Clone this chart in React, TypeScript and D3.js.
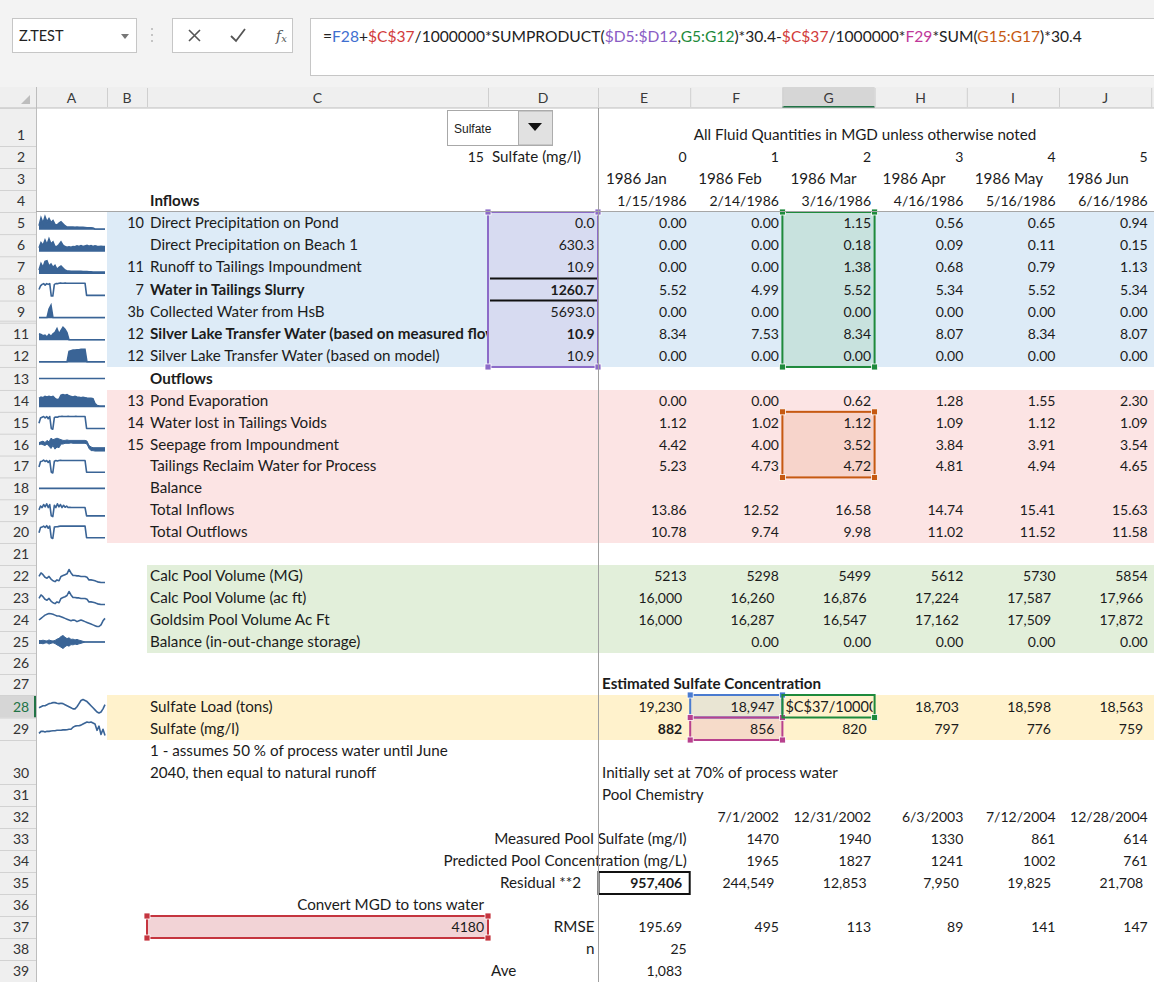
import React from "react";
import * as d3 from "d3";

// ---------------- data ----------------
const columnLetters = ["A", "B", "C", "D", "E", "F", "G", "H", "I", "J"];
const periodNumbers = [0, 1, 2, 3, 4, 5];
const monthLabels = ["1986 Jan", "1986 Feb", "1986 Mar", "1986 Apr", "1986 May", "1986 Jun"];
const dateLabels = ["1/15/1986", "2/14/1986", "3/16/1986", "4/16/1986", "5/16/1986", "6/16/1986"];
const fluidNote = "All Fluid Quantities in MGD unless otherwise  noted";
const constituentChoice = "Sulfate";
const constituentNumber = "15";
const constituentLabel = "Sulfate (mg/l)";
const nameBoxText = "Z.TEST";

const inflowRows = [5, 6, 7, 8, 9, 11, 12];
const inflowRefs = ["10", "", "11", "7", "3b", "12", "12"];
const inflowLabels = [
  "Direct Precipitation on Pond",
  "Direct Precipitation on Beach 1",
  "Runoff to Tailings Impoundment",
  "Water in Tailings Slurry",
  "Collected Water from HsB",
  "Silver Lake Transfer Water (based on measured flow)",
  "Silver Lake Transfer Water (based on model)",
];
const inflowBold = [false, false, false, true, false, true, false];
const inflowSulfate = [0.0, 630.3, 10.9, 1260.7, 5693.0, 10.9, 10.9];
const inflowValues = [
  [0.0, 0.0, 1.15, 0.56, 0.65, 0.94],
  [0.0, 0.0, 0.18, 0.09, 0.11, 0.15],
  [0.0, 0.0, 1.38, 0.68, 0.79, 1.13],
  [5.52, 4.99, 5.52, 5.34, 5.52, 5.34],
  [0.0, 0.0, 0.0, 0.0, 0.0, 0.0],
  [8.34, 7.53, 8.34, 8.07, 8.34, 8.07],
  [0.0, 0.0, 0.0, 0.0, 0.0, 0.0],
];

const outflowRows = [14, 15, 16, 17, 18, 19, 20];
const outflowRefs = ["13", "14", "15", "", "", "", ""];
const outflowLabels = [
  "Pond Evaporation",
  "Water lost in Tailings Voids",
  "Seepage from Impoundment",
  "Tailings Reclaim Water for Process",
  "Balance",
  "Total Inflows",
  "Total Outflows",
];
const outflowValues = [
  [0.0, 0.0, 0.62, 1.28, 1.55, 2.3],
  [1.12, 1.02, 1.12, 1.09, 1.12, 1.09],
  [4.42, 4.0, 3.52, 3.84, 3.91, 3.54],
  [5.23, 4.73, 4.72, 4.81, 4.94, 4.65],
  [],
  [13.86, 12.52, 16.58, 14.74, 15.41, 15.63],
  [10.78, 9.74, 9.98, 11.02, 11.52, 11.58],
];

const poolLabels = [
  "Calc Pool Volume (MG)",
  "Calc Pool Volume (ac ft)",
  "Goldsim Pool Volume Ac Ft",
  "Balance (in-out-change storage)",
];
const poolVolumeMG = [5213, 5298, 5499, 5612, 5730, 5854];
const poolVolumeAcFt = [16000, 16260, 16876, 17224, 17587, 17966];
const goldsimVolumeAcFt = [16000, 16287, 16547, 17162, 17509, 17872];
const poolBalance = [null, 0.0, 0.0, 0.0, 0.0, 0.0];

const estimateTitle = "Estimated Sulfate Concentration";
const sulfateLoadLabel = "Sulfate Load (tons)";
const sulfateConcLabel = "Sulfate (mg/l)";
const sulfateLoad = [19230, 18947, null, 18703, 18598, 18563];
const editingFormula = "$C$37/10000";
const sulfateConc = [882, 856, 820, 797, 776, 759];

const noteLines = ["1 - assumes 50 % of process water until June", "2040, then equal to natural runoff"];
const initialNote = "Initially set at 70% of process water";
const chemistryTitle = "Pool Chemistry";
const chemistryDates = ["7/1/2002", "12/31/2002", "6/3/2003", "7/12/2004", "12/28/2004"];
const measuredSulfate = [1470, 1940, 1330, 861, 614];
const predictedSulfate = [1965, 1827, 1241, 1002, 761];
const residualTotal = 957406;
const residuals = [244549, 12853, 7950, 19825, 21708];
const rmseTotal = 195.69;
const rmseValues = [495, 113, 89, 141, 147];
const sampleCount = 25;
const averageConc = 1083;
const tonsFactor = 4180;

const sparkPrecipPond = [0.3, 0.9, 0.5, 1.0, 0.6, 0.85, 0.55, 0.7, 0.4, 0.35, 0.5, 0.6, 0.45, 0.3, 0.2, 0.2, 0.2, 0.2, 0.18, 0.2, 0.18, 0.18, 0.18, 0.17, 0.15, 0.15, 0.15, 0.12, 0.05, 0.05, 0.05, 0.05, 0.05, 0.05];
const sparkPrecipBeach = [0.3, 0.7, 0.5, 0.9, 0.55, 1.0, 0.6, 0.75, 0.4, 0.4, 0.55, 0.75, 0.5, 0.4, 0.35, 0.38, 0.35, 0.4, 0.38, 0.45, 0.4, 0.48, 0.4, 0.45, 0.5, 0.42, 0.48, 0.4, 0.45, 0.42, 0.4, 0.42, 0.4, 0.4];
const sparkRunoff = [0.3, 0.8, 0.5, 0.95, 1.0, 0.6, 0.75, 0.5, 0.65, 0.35, 0.5, 0.6, 0.45, 0.3, 0.22, 0.22, 0.2, 0.2, 0.2, 0.2, 0.2, 0.2, 0.18, 0.18, 0.18, 0.17, 0.16, 0.15, 0.15, 0.15, 0.15, 0.15, 0.15, 0.15];
const sparkSlurry = [0.45, 0.7, 0.8, 0.85, 0.75, 0.85, 0.8, 0.85, 0.0, 0.0, 0.8, 0.85, 0.85, 0.88, 0.9, 0.88, 0.88, 0.9, 0.88, 0.88, 0.88, 0.88, 0.88, 0.88, 0.88, 0.88, 0.88, 0.88, 0.88, 0.88, 0.88, 0.05, 0.05, 0.05, 0.05, 0.05, 0.05, 0.05, 0.05, 0.05, 0.05, 0.05, 0.05, 0.05];
const sparkHsB = [0.05, 0.05, 0.05, 0.05, 0.05, 0.7, 1.0, 0.05, 0.05, 0.05, 0.05, 0.05, 0.05, 0.05, 0.05, 0.05, 0.05, 0.05, 0.05, 0.05, 0.05, 0.05, 0.05, 0.05, 0.05, 0.05, 0.05, 0.05, 0.05, 0.05, 0.05, 0.05, 0.05, 0.05];
const sparkSilverMeasured = [0.5, 0.45, 0.35, 0.4, 0.25, 0.45, 0.3, 0.5, 0.6, 0.9, 0.5, 0.75, 1.0, 0.85, 0.6, 0.05, 0.05, 0.05, 0.05, 0.05, 0.05, 0.05, 0.05, 0.05, 0.05, 0.05, 0.05, 0.05, 0.05, 0.05, 0.05, 0.05, 0.05, 0.05];
const sparkSilverModel = [0.05, 0.05, 0.05, 0.05, 0.05, 0.05, 0.05, 0.05, 0.05, 0.05, 0.05, 0.05, 0.05, 0.05, 0.05, 0.8, 0.85, 0.9, 0.9, 0.92, 0.92, 0.95, 0.95, 0.95, 0.05, 0.05, 0.05, 0.05, 0.05, 0.05, 0.05, 0.05, 0.05, 0.05];
const sparkFlat = [0, 0, 0, 0, 0, 0, 0, 0, 0, 0];
const sparkEvaporation = [0.7, 0.8, 0.75, 0.85, 0.8, 0.85, 0.8, 0.85, 0.7, 0.6, 0.65, 0.95, 1.0, 0.95, 1.0, 0.9, 0.85, 0.8, 0.85, 0.8, 0.78, 0.75, 0.78, 0.75, 0.72, 0.7, 0.7, 0.68, 0.3, 0.15, 0.12, 0.1, 0.1, 0.1];
const sparkVoids = [0.4, 0.75, 0.8, 0.85, 0.75, 0.85, 0.7, 0.85, 0.05, 0.0, 0.78, 0.82, 0.8, 0.85, 0.85, 0.86, 0.85, 0.85, 0.85, 0.86, 0.85, 0.85, 0.85, 0.85, 0.86, 0.85, 0.85, 0.85, 0.85, 0.85, 0.85, 0.05, 0.05, 0.05, 0.05, 0.05, 0.05, 0.05, 0.05, 0.05, 0.05, 0.05, 0.05, 0.05];
const seepageHigh = [0.7, 0.75, 0.8, 0.7, 0.85, 0.75, 1.0, 0.9, 0.95, 1.0, 0.95, 0.9, 0.85, 0.85, 0.88, 0.85, 0.85, 0.85, 0.85, 0.85, 0.85, 0.85, 0.85, 0.85, 0.8, 0.5, 0.4, 0.35, 0.35, 0.35, 0.35, 0.35, 0.35, 0.35];
const seepageLow = [0.55, 0.6, 0.55, 0.5, 0.6, 0.45, 0.3, 0.5, 0.25, 0.4, 0.35, 0.6, 0.6, 0.65, 0.65, 0.65, 0.68, 0.65, 0.65, 0.65, 0.65, 0.65, 0.65, 0.65, 0.6, 0.3, 0.15, 0.15, 0.12, 0.12, 0.12, 0.12, 0.12, 0.12];
const sparkReclaim = [0.4, 0.78, 0.8, 0.88, 0.78, 0.85, 0.72, 0.85, 0.05, 0.0, 0.8, 0.85, 0.82, 0.85, 0.86, 0.85, 0.85, 0.85, 0.85, 0.85, 0.85, 0.85, 0.85, 0.85, 0.85, 0.85, 0.85, 0.85, 0.85, 0.85, 0.85, 0.05, 0.05, 0.05, 0.05, 0.05, 0.05, 0.05, 0.05, 0.05, 0.05, 0.05, 0.05, 0.05];
const sparkTotalIn = [0.45, 0.7, 0.6, 0.8, 0.65, 0.85, 0.6, 0.8, 0.05, 0.0, 0.75, 0.6, 0.85, 0.65, 0.8, 0.6, 0.75, 0.62, 0.7, 0.6, 0.62, 0.6, 0.6, 0.6, 0.6, 0.6, 0.6, 0.6, 0.6, 0.6, 0.6, 0.05, 0.05, 0.05, 0.05, 0.05, 0.05, 0.05, 0.05, 0.05, 0.05, 0.05, 0.05, 0.05];
const sparkTotalOut = [0.4, 0.75, 0.78, 0.85, 0.75, 0.88, 0.7, 0.85, 0.05, 0.0, 0.78, 0.8, 0.8, 0.83, 0.85, 0.85, 0.85, 0.85, 0.85, 0.85, 0.85, 0.85, 0.85, 0.85, 0.85, 0.85, 0.85, 0.85, 0.85, 0.85, 0.85, 0.05, 0.05, 0.05, 0.05, 0.05, 0.05, 0.05, 0.05, 0.05, 0.05, 0.05, 0.05, 0.05];
const sparkPoolMG = [0.55, 0.75, 0.65, 0.5, 0.45, 0.55, 0.4, 0.3, 0.25, 0.35, 0.3, 0.55, 0.6, 0.65, 0.7, 0.95, 0.75, 0.6, 0.6, 0.58, 0.58, 0.55, 0.55, 0.55, 0.5, 0.35, 0.35, 0.33, 0.3, 0.25, 0.22, 0.2, 0.2, 0.2];
const sparkPoolAcFt = [0.55, 0.75, 0.65, 0.5, 0.45, 0.55, 0.4, 0.3, 0.25, 0.35, 0.3, 0.55, 0.6, 0.65, 0.72, 0.95, 0.75, 0.6, 0.6, 0.58, 0.58, 0.55, 0.55, 0.55, 0.5, 0.35, 0.35, 0.33, 0.3, 0.25, 0.22, 0.2, 0.2, 0.2];
const sparkGoldsim = [0.5, 0.6, 0.7, 0.8, 0.85, 0.9, 0.88, 0.85, 0.8, 0.75, 0.75, 0.7, 0.65, 0.6, 0.55, 0.5, 0.45, 0.5, 0.48, 0.4, 0.45, 0.5, 0.45, 0.4, 0.35, 0.3, 0.25, 0.2, 0.15, 0.1, 0.1, 0.2, 0.45, 0.6];
const balanceHigh = [0.62, 0.6, 0.64, 0.6, 0.58, 0.66, 0.6, 0.58, 0.62, 0.72, 0.78, 0.92, 1.0, 0.86, 0.76, 0.82, 0.7, 0.72, 0.66, 0.7, 0.64, 0.6, 0.55, 0.52, 0.52, 0.52, 0.52, 0.52, 0.52, 0.52, 0.52, 0.52, 0.52, 0.52];
const balanceLow = [0.38, 0.4, 0.36, 0.42, 0.44, 0.34, 0.4, 0.44, 0.38, 0.28, 0.2, 0.1, 0.0, 0.14, 0.24, 0.18, 0.3, 0.28, 0.34, 0.3, 0.36, 0.4, 0.45, 0.48, 0.48, 0.48, 0.48, 0.48, 0.48, 0.48, 0.48, 0.48, 0.48, 0.48];
const sparkSulfateLoad = [0.4, 0.45, 0.5, 0.5, 0.55, 0.6, 0.62, 0.65, 0.65, 0.62, 0.6, 0.62, 0.6, 0.55, 0.5, 0.45, 0.4, 0.35, 0.35, 0.45, 0.6, 0.75, 0.8, 0.75, 0.7, 0.6, 0.5, 0.4, 0.3, 0.2, 0.15, 0.2, 0.35, 0.55];
const sparkSulfateConc = [0.15, 0.25, 0.25, 0.22, 0.25, 0.25, 0.27, 0.28, 0.28, 0.3, 0.3, 0.3, 0.32, 0.32, 0.33, 0.35, 0.35, 0.45, 0.5, 0.52, 0.52, 0.55, 0.6, 0.65, 0.7, 0.68, 0.7, 0.65, 0.6, 0.3, 0.5, 0.1, 0.35, 0.05];

const formulaParts: [string, string][] = [
  ["=", "#222"],
  ["F28", "#3F6FD0"],
  ["+", "#222"],
  ["$C$37", "#D23B3B"],
  ["/1000000*SUMPRODUCT(", "#222"],
  ["$D5:$D12", "#8A5CC4"],
  [",", "#222"],
  ["G5:G12", "#1E8A3C"],
  [")*30.4-", "#222"],
  ["$C$37", "#D23B3B"],
  ["/1000000*", "#222"],
  ["F29", "#C0389A"],
  ["*SUM(", "#222"],
  ["G15:G17", "#C65911"],
  [")*30.4", "#222"],
];

// ---------------- layout ----------------
const FONT = "Lato, 'Noto Sans', sans-serif";
const FS = 15.2; // labels
const FN = 14; // numbers
const TXT = "#1b1b1b";
const SPARK = "#3A6496";
const colEdges = [36, 107, 147, 488, 598, 690.2, 782.4, 874.6, 966.8, 1059, 1151.2];
const ci = (l: string) => columnLetters.indexOf(l);
const cL = (l: string) => colEdges[ci(l)];
const cR = (l: string) => colEdges[ci(l) + 1];
const valueCols = ["E", "F", "G", "H", "I", "J"];

const rowH = (r: number) => {
  if (r === 1) return 38;
  if (r === 10) return 0;
  if (r >= 5 && r <= 12) return 22.14;
  if (r === 13) return 23;
  if (r >= 14 && r <= 20) return 21.86;
  if (r === 26 || r === 27) return 21;
  if (r === 28 || r === 29) return 22.5;
  if (r === 30) return 44;
  return 22;
};
const rowT = (r: number) => {
  let y = 108;
  for (let k = 1; k < r; k++) y += rowH(k);
  return y;
};
const base = (r: number) => rowT(r) + rowH(r) - 6;

const fmt2 = d3.format(".2f");
const fmt1 = d3.format(".1f");
const fmtC = d3.format(",d");
const fmtI = d3.format("d");

type TOpts = { anchor?: "start" | "end" | "middle"; bold?: boolean; fill?: string; clip?: string; size?: number; family?: string };
function T(x: number, y: number, s: string, o: TOpts = {}, key?: any) {
  return (
    <text
      key={key}
      x={x}
      y={y}
      textAnchor={o.anchor || "start"}
      fontWeight={o.bold ? 700 : 400}
      fill={o.fill || TXT}
      fontFamily={o.family || FONT}
      fontSize={o.size || FS}
      clipPath={o.clip ? `url(#${o.clip})` : undefined}
    >
      {s}
    </text>
  );
}
// right-aligned value in a column; padded = accounting-style trailing space
const R = (col: string, r: number, s: string, padded = false, bold = false, key?: any) =>
  T(cR(col) - (padded ? 8 : 3.5), base(r), s, { anchor: "end", bold, size: FN }, key);

type SparkKind = "line" | "area" | "band";
function Spark({ row, values, kind, low }: { row: number; values: number[]; kind: SparkKind; low?: number[] }) {
  const top = rowT(row) + 4.5;
  const bot = rowT(row) + rowH(row) - 4.5;
  const x = d3.scaleLinear().domain([0, values.length - 1]).range([39, 105]);
  const all = low ? values.concat(low) : values;
  let mn = d3.min(all) as number;
  let mx = d3.max(all) as number;
  if (kind === "area") mn = Math.min(0, mn);
  if (mx === mn) {
    mn -= 1;
    mx += 1;
  }
  const y = d3.scaleLinear().domain([mn, mx]).range([bot, top]);
  const line = d3.line<number>().x((_, i) => x(i)).y((d) => y(d));
  if (kind === "band" && low) {
    const area = d3
      .area<number>()
      .x((_, i) => x(i))
      .y0((_, i) => y(low[i]))
      .y1((d) => y(d));
    return (
      <g>
        <path d={area(values) || ""} fill={SPARK} />
        <path d={line(values) || ""} fill="none" stroke={SPARK} strokeWidth={1} />
        <path d={line(low) || ""} fill="none" stroke={SPARK} strokeWidth={1} />
      </g>
    );
  }
  if (kind === "area") {
    const area = d3
      .area<number>()
      .x((_, i) => x(i))
      .y0(y(mn))
      .y1((d) => y(d));
    return (
      <g>
        <path d={area(values) || ""} fill={SPARK} />
        <path d={line(values) || ""} fill="none" stroke={SPARK} strokeWidth={1.5} />
      </g>
    );
  }
  return <path d={line(values) || ""} fill="none" stroke={SPARK} strokeWidth={1.6} strokeLinejoin="round" />;
}

const sparkDefs: { row: number; values: number[]; kind: SparkKind; low?: number[] }[] = [
  { row: 5, values: sparkPrecipPond, kind: "area" },
  { row: 6, values: sparkPrecipBeach, kind: "area" },
  { row: 7, values: sparkRunoff, kind: "area" },
  { row: 8, values: sparkSlurry, kind: "line" },
  { row: 9, values: sparkHsB, kind: "area" },
  { row: 11, values: sparkSilverMeasured, kind: "area" },
  { row: 12, values: sparkSilverModel, kind: "area" },
  { row: 13, values: sparkFlat, kind: "line" },
  { row: 14, values: sparkEvaporation, kind: "area" },
  { row: 15, values: sparkVoids, kind: "line" },
  { row: 16, values: seepageHigh, kind: "band", low: seepageLow },
  { row: 17, values: sparkReclaim, kind: "line" },
  { row: 18, values: sparkFlat, kind: "line" },
  { row: 19, values: sparkTotalIn, kind: "line" },
  { row: 20, values: sparkTotalOut, kind: "line" },
  { row: 22, values: sparkPoolMG, kind: "line" },
  { row: 23, values: sparkPoolAcFt, kind: "line" },
  { row: 24, values: sparkGoldsim, kind: "line" },
  { row: 25, values: balanceHigh, kind: "band", low: balanceLow },
  { row: 28, values: sparkSulfateLoad, kind: "line" },
  { row: 29, values: sparkSulfateConc, kind: "line" },
];

type Sel = { c0: string; c1: string; r0: number; r1: number; color: string; fill?: string; handles: string[] };
const selections: Sel[] = [
  { c0: "D", c1: "D", r0: 5, r1: 12, color: "#8C6BC8", fill: "#D7DBF1", handles: ["tl", "tr", "bl", "br"] },
  { c0: "G", c1: "G", r0: 5, r1: 12, color: "#1E8A3C", fill: "#C8E2DE", handles: ["tl", "tr", "bl", "br"] },
  { c0: "G", c1: "G", r0: 15, r1: 17, color: "#C65911", fill: "#F7D4CB", handles: ["tl", "tr", "bl", "br"] },
  { c0: "F", c1: "F", r0: 28, r1: 28, color: "#4A7BD0", fill: "#E9E5D3", handles: ["tl", "tr"] },
  { c0: "F", c1: "F", r0: 29, r1: 29, color: "#B8418E", fill: "#F6DBC9", handles: ["tl", "tr", "bl", "br"] },
  { c0: "G", c1: "G", r0: 28, r1: 28, color: "#1E8A3C", handles: ["br"] },
  { c0: "C", c1: "C", r0: 37, r1: 37, color: "#C5353F", fill: "#F2D3D6", handles: ["tl", "tr", "bl", "br"] },
];

export default function App() {
  React.useEffect(() => {
    document.body.style.margin = "0";
  }, []);
  const W = 1154;
  const H = 982;
  const rowsShown = d3.range(1, 40).filter((r) => r !== 10);

  const selRect = (s: Sel) => ({
    x0: cL(s.c0),
    x1: cR(s.c1),
    y0: rowT(s.r0),
    y1: rowT(s.r1) + rowH(s.r1),
  });

  return (
    <svg width={W} height={H} style={{ position: "absolute", left: 0, top: 0, display: "block", background: "#fff" }}>
      <defs>
        <clipPath id="clipC">
          <rect x={147} y={0} width={488 - 147} height={H} />
        </clipPath>
        <clipPath id="clipG">
          <rect x={782.4} y={0} width={874.6 - 782.4 - 2} height={H} />
        </clipPath>
      </defs>

      {/* ribbon / formula bar */}
      <rect x={0} y={0} width={W} height={87} fill="#F3F3F3" />
      <rect x={12.5} y={18.5} width={124} height={34} fill="#fff" stroke="#C6C6C6" />
      {T(19, 41, nameBoxText, { fill: "#222", size: 14.5 })}
      <path d="M121,34 L129,34 L125,39 Z" fill="#777" />
      {[29, 35, 41].map((yy) => (
        <circle key={yy} cx={152} cy={yy} r={1} fill="#B5B5B5" />
      ))}
      <rect x={172.5} y={18.5} width={120} height={34} fill="#fff" stroke="#C6C6C6" />
      <path d="M189,30 L200,41 M200,30 L189,41" stroke="#555" strokeWidth={1.6} />
      <path d="M231,36 L236,41 L245,29" stroke="#555" strokeWidth={1.8} fill="none" />
      <text x={276} y={41} fontFamily="'DejaVu Serif', serif" fontStyle="italic" fontSize={14} fill="#555">
        f
        <tspan fontSize={10} dy={1}>x</tspan>
      </text>
      <rect x={310.5} y={18.5} width={850} height={57} fill="#fff" stroke="#C6C6C6" />
      <text x={323} y={42} fontFamily={FONT} fontSize={15.6}>
        {formulaParts.map(([s, c], i) => (
          <tspan key={i} fill={c}>
            {s}
          </tspan>
        ))}
      </text>

      {/* column header */}
      <rect x={0} y={87} width={W} height={21} fill="#EFEFEF" />
      <rect x={cL("G")} y={87} width={cR("G") - cL("G")} height={21} fill="#D6D6D6" />
      <rect x={cL("G")} y={106} width={cR("G") - cL("G")} height={2} fill="#217346" />
      <path d="M30,95 L30,104 L21,104 Z" fill="#BDBDBD" />
      {colEdges.map((x, i) => (
        <line key={i} x1={x + 0.5} x2={x + 0.5} y1={88} y2={107} stroke="#CFCFCF" />
      ))}
      {columnLetters.map((l) =>
        T((cL(l) + cR(l)) / 2, 103, l, { anchor: "middle", fill: "#3a3a3a", size: 14 }, "h" + l)
      )}
      <line x1={0} x2={W} y1={108} y2={108} stroke="#BDBDBD" />

      {/* row header */}
      <rect x={0} y={108} width={36} height={H - 108} fill="#EFEFEF" />
      <rect x={0} y={rowT(28)} width={36} height={rowH(28)} fill="#D6D6D6" />
      <rect x={34} y={rowT(28)} width={2} height={rowH(28)} fill="#217346" />
      {rowsShown.map((r) => (
        <line key={"rl" + r} x1={0} x2={36} y1={rowT(r) + 0.5} y2={rowT(r) + 0.5} stroke="#D2D2D2" />
      ))}
      <line x1={0} x2={36} y1={rowT(11) - 1.5} y2={rowT(11) - 1.5} stroke="#D2D2D2" />
      {rowsShown.map((r) =>
        T(21, base(r), String(r), { anchor: "middle", fill: r === 28 ? "#217346" : "#333", size: 14 }, "rn" + r)
      )}
      <line x1={36.5} x2={36.5} y1={87} y2={H} stroke="#BDBDBD" />

      {/* band fills */}
      <rect x={107} y={rowT(5)} width={W - 107} height={rowT(13) - rowT(5)} fill="#DDEBF7" />
      <rect x={107} y={rowT(14)} width={W - 107} height={rowT(21) - rowT(14)} fill="#FCE4E4" />
      <rect x={147} y={rowT(22)} width={W - 147} height={rowT(26) - rowT(22)} fill="#E2EFDA" />
      <rect x={107} y={rowT(28)} width={W - 107} height={rowT(30) - rowT(28)} fill="#FFF2CC" />

      {/* selection fills */}
      {selections
        .filter((s) => s.fill)
        .map((s, i) => {
          const b = selRect(s);
          return <rect key={"sf" + i} x={b.x0} y={b.y0} width={b.x1 - b.x0} height={b.y1 - b.y0} fill={s.fill} />;
        })}

      {/* sparklines */}
      {sparkDefs.map((s) => (
        <Spark key={"sp" + s.row} row={s.row} values={s.values} kind={s.kind} low={s.low} />
      ))}

      {/* header rows */}
      <rect x={447.5} y={110.5} width={105} height={35} fill="#fff" stroke="#A8A8A8" />
      <rect x={518.5} y={111} width={34} height={34} fill="#E1E1E1" stroke="#ADADAD" />
      <path d="M528,123 L542,123 L535,131 Z" fill="#111" />
      {T(454, 133, constituentChoice, { family: "'Liberation Sans', Arial, sans-serif", size: 12 })}
      {T(865, base(1), fluidNote, { anchor: "middle" })}
      {T(cR("C") - 4, base(2), constituentNumber, { anchor: "end", size: FN })}
      {T(cL("D") + 4, base(2), constituentLabel)}
      {periodNumbers.map((p, i) => R(valueCols[i], 2, String(p), false, false, "pn" + i))}
      {monthLabels.map((m, i) => T(cL(valueCols[i]) + 8, base(3), m, {}, "ml" + i))}
      {T(150, base(4), "Inflows", { bold: true })}
      {dateLabels.map((d, i) => R(valueCols[i], 4, d, false, false, "dl" + i))}

      {/* inflows */}
      {inflowRows.map((r, k) => (
        <g key={"in" + r}>
          {inflowRefs[k] && T(144, base(r), inflowRefs[k], { anchor: "end", size: 14.5 })}
          {T(150, base(r), inflowLabels[k], { bold: inflowBold[k], clip: "clipC" })}
          {R("D", r, fmt1(inflowSulfate[k]), false, inflowBold[k])}
          {inflowValues[k].map((v, i) => R(valueCols[i], r, fmt2(v), false, false, i))}
        </g>
      ))}
      <line x1={490} x2={598} y1={rowT(8)} y2={rowT(8)} stroke="#111" strokeWidth={2} />
      <line x1={490} x2={598} y1={rowT(9)} y2={rowT(9)} stroke="#111" strokeWidth={2} />

      {/* outflows */}
      {T(150, base(13), "Outflows", { bold: true })}
      {outflowRows.map((r, k) => (
        <g key={"out" + r}>
          {outflowRefs[k] && T(144, base(r), outflowRefs[k], { anchor: "end", size: 14.5 })}
          {T(150, base(r), outflowLabels[k])}
          {outflowValues[k].map((v, i) => R(valueCols[i], r, fmt2(v), false, false, i))}
        </g>
      ))}

      {/* pool volumes */}
      {poolLabels.map((l, k) => T(150, base(22 + k), l, {}, "pl" + k))}
      {poolVolumeMG.map((v, i) => R(valueCols[i], 22, fmtI(v), false, false, "pm" + i))}
      {poolVolumeAcFt.map((v, i) => R(valueCols[i], 23, fmtC(v), true, false, "pa" + i))}
      {goldsimVolumeAcFt.map((v, i) => R(valueCols[i], 24, fmtC(v), true, false, "pg" + i))}
      {poolBalance.map((v, i) => (v === null ? null : R(valueCols[i], 25, fmt2(v), false, false, "pb" + i)))}

      {/* sulfate */}
      {T(cL("E") + 4, base(27), estimateTitle, { bold: true })}
      {T(150, base(28), sulfateLoadLabel)}
      {T(150, base(29), sulfateConcLabel)}
      {sulfateLoad.map((v, i) => (v === null ? null : R(valueCols[i], 28, fmtC(v), true, false, "sl" + i)))}
      {T(cL("G") + 3, base(28), editingFormula, { clip: "clipG", size: 14.5 })}
      {sulfateConc.map((v, i) => R(valueCols[i], 29, fmtI(v), true, i === 0, "sc" + i))}

      {/* notes & chemistry */}
      {T(150, rowT(30) + 16, noteLines[0])}
      {T(150, rowT(30) + 38, noteLines[1])}
      {T(cL("E") + 4, rowT(30) + 38, initialNote)}
      {T(cL("E") + 4, base(31), chemistryTitle)}
      {chemistryDates.map((d, i) => R(valueCols[i + 1], 32, d, false, false, "cd" + i))}
      {T(cR("E") - 3.5, base(33), "Measured Pool Sulfate (mg/l)", { anchor: "end" })}
      {measuredSulfate.map((v, i) => R(valueCols[i + 1], 33, fmtI(v), false, false, "ms" + i))}
      {T(cR("E") - 3.5, base(34), "Predicted Pool Concentration (mg/L)", { anchor: "end" })}
      {predictedSulfate.map((v, i) => R(valueCols[i + 1], 34, fmtI(v), false, false, "ps" + i))}
      {T(581, base(35), "Residual **2", { anchor: "end" })}
      {R("E", 35, fmtC(residualTotal), true, true)}
      {residuals.map((v, i) => R(valueCols[i + 1], 35, fmtC(v), true, false, "rs" + i))}
      <rect x={cL("E") + 0.5} y={rowT(35)} width={cR("E") - cL("E") - 1} height={rowH(35)} fill="none" stroke="#111" strokeWidth={2} />
      {T(cR("C") - 4, base(36), "Convert MGD to tons water", { anchor: "end" })}
      {T(cR("C") - 4, base(37), fmtI(tonsFactor), { anchor: "end", size: FN })}
      {T(cR("D") - 3.5, base(37), "RMSE", { anchor: "end" })}
      {R("E", 37, fmt2(rmseTotal), true)}
      {rmseValues.map((v, i) => R(valueCols[i + 1], 37, fmtI(v), false, false, "rm" + i))}
      {T(cR("D") - 3.5, base(38), "n", { anchor: "end" })}
      {R("E", 38, fmtI(sampleCount))}
      {T(cL("D") + 3, base(39), "Ave")}
      {R("E", 39, fmtC(averageConc), true)}

      {/* selection borders */}
      {selections.map((s, i) => {
        const b = selRect(s);
        const pts: Record<string, [number, number]> = {
          tl: [b.x0, b.y0],
          tr: [b.x1, b.y0],
          bl: [b.x0, b.y1],
          br: [b.x1, b.y1],
        };
        return (
          <g key={"sb" + i}>
            <rect x={b.x0} y={b.y0} width={b.x1 - b.x0} height={b.y1 - b.y0} fill="none" stroke={s.color} strokeWidth={2} />
            {s.handles.map((h) => (
              <rect key={h} x={pts[h][0] - 3} y={pts[h][1] - 3} width={6} height={6} fill={s.color} stroke="#fff" strokeWidth={0.8} />
            ))}
          </g>
        );
      })}

      {/* freeze panes */}
      <line x1={36} x2={W} y1={rowT(5) - 0.5} y2={rowT(5) - 0.5} stroke="#A6A6A6" />
      <line x1={598.5} x2={598.5} y1={108} y2={H} stroke="#A0A0A0" />
    </svg>
  );
}
